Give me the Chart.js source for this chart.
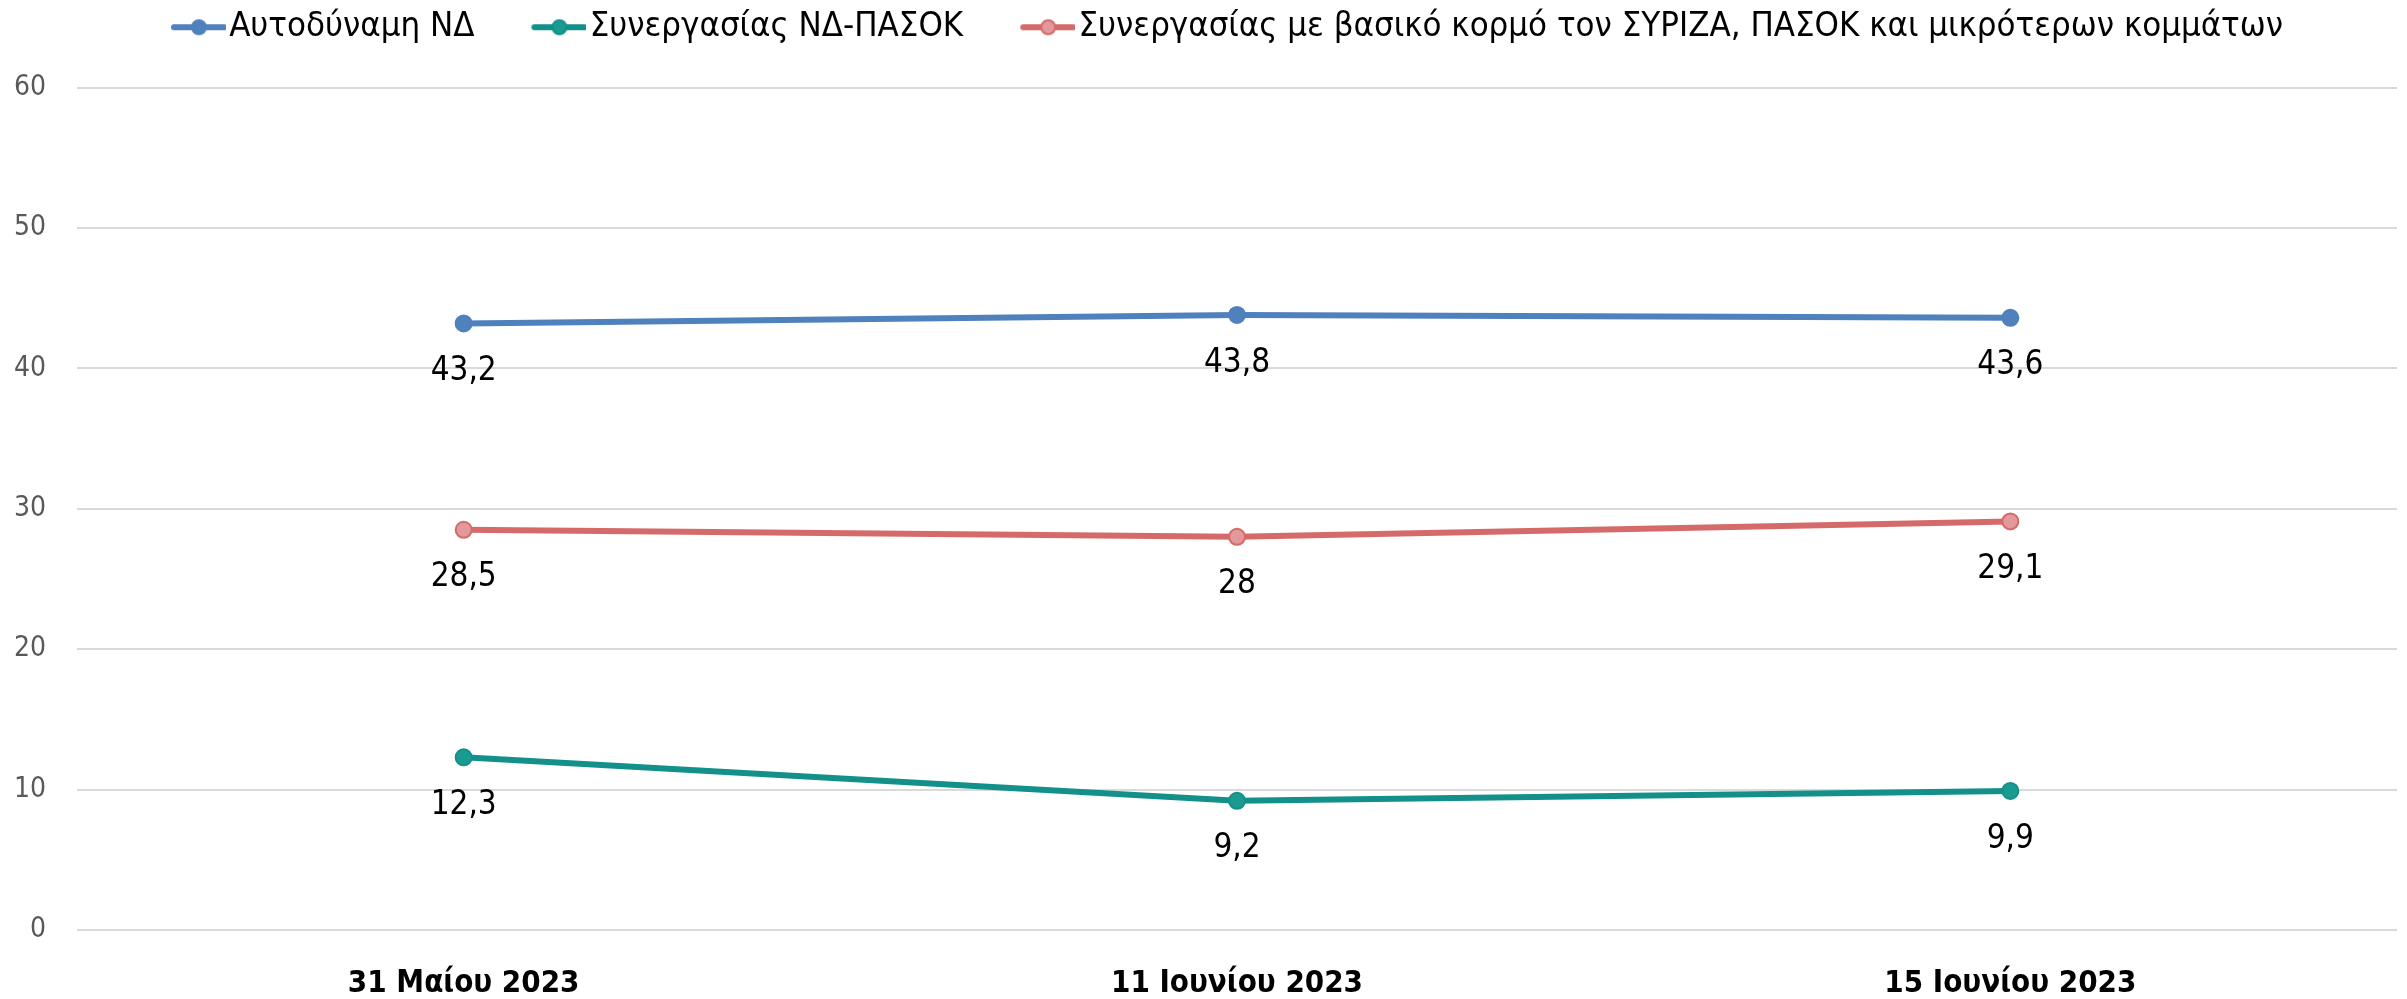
<!DOCTYPE html>
<html>
<head>
<meta charset="utf-8">
<script src="https://cdn.jsdelivr.net/npm/chart.js@4/dist/chart.umd.min.js"></script>
<style>
  html, body { margin: 0; padding: 0; background: #fff; }
  #c { display: block; }
</style>
</head>
<body>
<canvas id="c" width="2407" height="999"></canvas>
<script>
// Poll results: share (%) by outcome preference, three survey dates
const dates = ['31 Μαίου 2023', '11 Ιουνίου 2023', '15 Ιουνίου 2023'];
const seriesNames = [
  'Αυτοδύναμη ΝΔ',
  'Συνεργασίας ΝΔ-ΠΑΣΟΚ',
  'Συνεργασίας με βασικό κορμό τον ΣΥΡΙΖΑ, ΠΑΣΟΚ και μικρότερων κομμάτων'
];
const autodynami = [43.2, 43.8, 43.6];
const ndPasok = [12.3, 9.2, 9.9];
const syriza = [28.5, 28, 29.1];
const yTicks = [0, 10, 20, 30, 40, 50, 60];

const FONT = "'Liberation Sans Narrow', 'DejaVu Sans Condensed', sans-serif";

const lineColors = ['#4f81bd', '#13908a', '#d46b6a'];
const pointFills = ['#4f81bd', '#1a9b92', '#e3999c'];

// legend symbol: short line with a dot, drawn into the right part of a
// wider image so the gap to the label is small, like the original
function legendMarker(line, fill) {
  const cv = document.createElement('canvas');
  cv.width = 116; cv.height = 18;
  const g = cv.getContext('2d');
  g.strokeStyle = line; g.lineWidth = 6; g.lineCap = 'round';
  g.beginPath(); g.moveTo(64, 9); g.lineTo(114, 9); g.stroke();
  g.fillStyle = fill; g.strokeStyle = line; g.lineWidth = 2;
  g.beginPath(); g.arc(89, 9, 7, 0, Math.PI * 2); g.fill(); g.stroke();
  return cv;
}

// extra room between legend and plot
const legendSpacer = {
  id: 'legendSpacer',
  beforeInit(chart) {
    const fit = chart.legend.fit;
    chart.legend.fit = function () {
      fit.call(this);
      this.height += 33;
    };
  }
};

// value labels under each point, decimal comma
const valueLabels = {
  id: 'valueLabels',
  afterDatasetsDraw(chart) {
    const ctx = chart.ctx;
    ctx.save();
    ctx.font = '33px ' + FONT;
    ctx.fillStyle = '#000';
    ctx.textAlign = 'center';
    ctx.textBaseline = 'middle';
    chart.data.datasets.forEach((ds, i) => {
      chart.getDatasetMeta(i).data.forEach((pt, j) => {
        ctx.fillText(String(ds.data[j]).replace('.', ','), pt.x, pt.y + 48);
      });
    });
    ctx.restore();
  }
};

const datasets = [autodynami, ndPasok, syriza].map((vals, i) => ({
  label: seriesNames[i],
  data: vals,
  borderColor: lineColors[i],
  backgroundColor: pointFills[i],
  pointBackgroundColor: pointFills[i],
  pointBorderColor: lineColors[i],
  pointBorderWidth: 2,
  borderWidth: 6,
  pointRadius: 8,
  tension: 0,
  pointStyle: 'circle'
}));

const markers = lineColors.map((c, i) => legendMarker(c, pointFills[i]));

new Chart(document.getElementById('c'), {
  type: 'line',
  data: { labels: dates, datasets: datasets },
  options: {
    responsive: false,
    devicePixelRatio: 1,
    animation: false,
    layout: { padding: 0 },
    plugins: {
      legend: {
        position: 'top',
        labels: {
          usePointStyle: true,
          pointStyleWidth: 88,
          padding: 10,
          color: '#000',
          font: { family: FONT, size: 34.5 },
          generateLabels(chart) {
            return chart.data.datasets.map((ds, i) => ({
              text: ds.label,
              pointStyle: markers[i],
              fillStyle: pointFills[i],
              strokeStyle: lineColors[i],
              lineWidth: 0,
              datasetIndex: i,
              hidden: false
            }));
          }
        }
      },
      tooltip: { enabled: false }
    },
    scales: {
      x: {
        offset: true,
        grid: { display: false },
        border: { display: false },
        afterFit(scale) { scale.height = 69; },
        ticks: {
          padding: 27,
          color: '#000',
          font: { family: FONT, size: 31, weight: 'bold' }
        }
      },
      y: {
        min: 0,
        max: 60,
        afterBuildTicks(scale) { scale.ticks = yTicks.map(v => ({ value: v })); },
        afterFit(scale) { scale.width = 77; },
        grid: { color: '#d9d9d9', lineWidth: 2, drawTicks: false },
        border: { display: false },
        ticks: {
          padding: 31,
          color: '#595959',
          font: { family: FONT, size: 28 }
        }
      }
    }
  },
  plugins: [legendSpacer, valueLabels]
});
</script>
</body>
</html>
